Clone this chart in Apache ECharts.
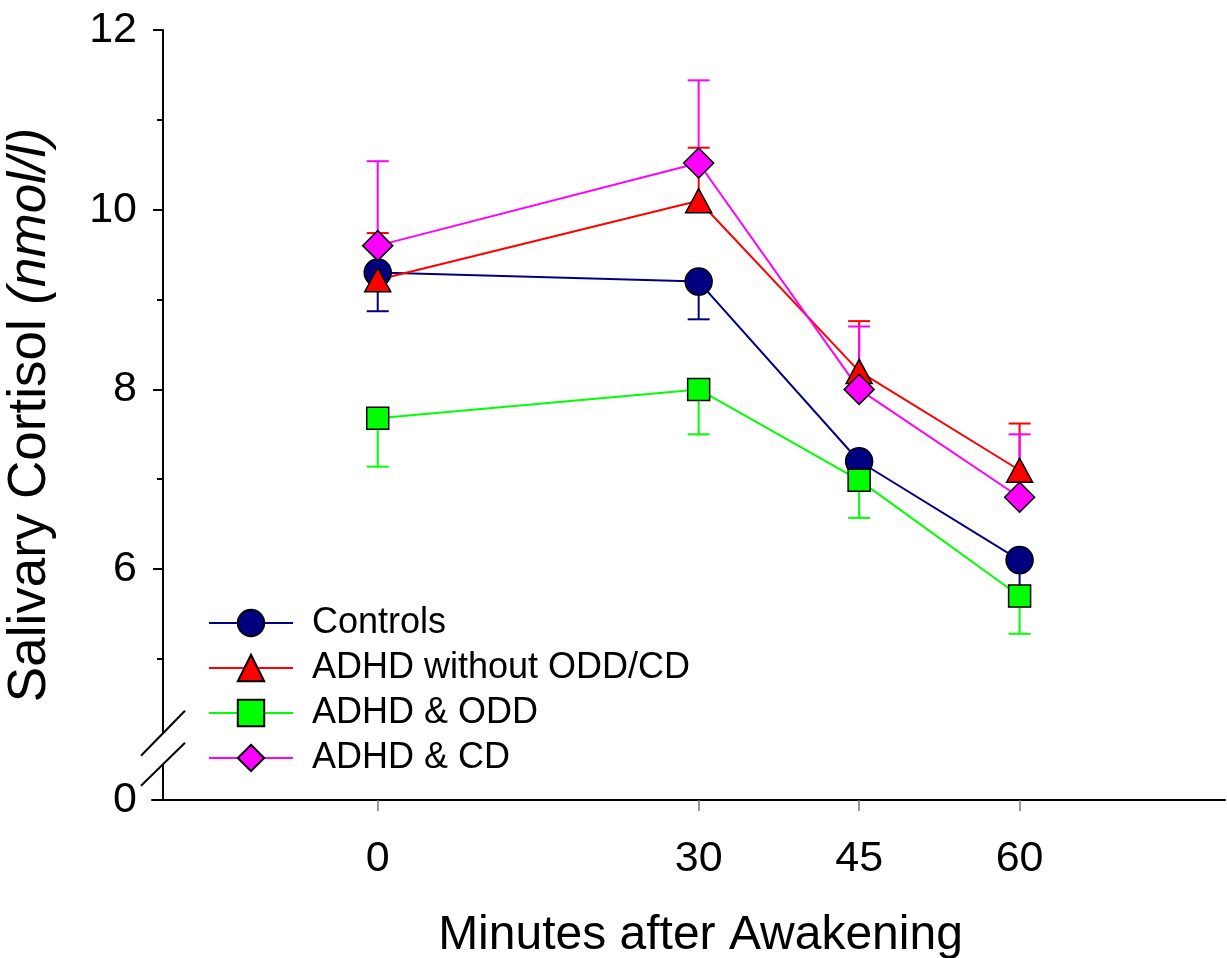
<!DOCTYPE html>
<html>
<head>
<meta charset="utf-8">
<script src="https://cdn.jsdelivr.net/npm/echarts@6/dist/echarts.min.js"></script>
<style>
html,body{margin:0;padding:0;background:#fff;}
#chartLine{width:1227px;height:958px;}
</style>
</head>
<body>
<div id="chartLine"></div>
<script>
// data
var minutes = [0, 30, 45, 60];
var xTickValues = [0, 30, 45, 60];
var yTickValues = [6, 8, 10, 12];
var yMinorTicks = [5, 7, 9, 11];
var yBottom = 3.43;      // where the broken axis shows "0"
var yBreakAt = 4.0;

var names = ['Controls', 'ADHD without ODD/CD', 'ADHD & ODD', 'ADHD & CD'];
var controls = [9.3, 9.2, 7.2, 6.1];
var controlsErr = [8.87, 8.78, 6.95, 5.75];
var adhd = [9.22, 10.1, 8.2, 7.1];
var adhdErr = [9.74, 10.69, 8.76, 7.62];
var odd = [7.68, 8.0, 6.99, 5.7];
var oddErr = [7.14, 7.5, 6.57, 5.28];
var cd = [9.6, 10.52, 8.0, 6.8];
var cdErr = [10.54, 11.44, 8.7, 7.5];

var FONT = "'Liberation Sans', Arial, sans-serif";

function pairs(vals){
    return minutes.map(function(m, i){ return [m, vals[i]]; });
}
function errPairs(vals, ends){
    return minutes.map(function(m, i){ return [m, vals[i], ends[i]]; });
}

function errorBar(name, color, vals, ends){
    return {
        name: name + ' err',
        type: 'custom',
        data: errPairs(vals, ends),
        renderItem: function(params, api){
            var p0 = api.coord([api.value(0), api.value(1)]);
            var p1 = api.coord([api.value(0), api.value(2)]);
            var st = {stroke: color, lineWidth: 2};
            return {
                type: 'group',
                children: [
                    {type: 'line', shape: {x1: p0[0], y1: p0[1], x2: p1[0], y2: p1[1]}, style: st},
                    {type: 'line', shape: {x1: p1[0] - 11, y1: p1[1], x2: p1[0] + 11, y2: p1[1]}, style: st}
                ]
            };
        },
        silent: true
    };
}

function lineSeries(name, color, vals, symbol, size){
    return {
        name: name,
        type: 'line',
        data: pairs(vals),
        symbol: symbol,
        symbolSize: size,
        showAllSymbol: true,
        lineStyle: {color: color, width: 2},
        itemStyle: {color: color, borderColor: '#000', borderWidth: 1.5},
        emphasis: {disabled: true}
    };
}

var myChart = echarts.init(document.getElementById('chartLine'));
var option = {
    backgroundColor: '#fff',
    animation: false,
    grid: {left: 152, right: 2, top: 30, bottom: 158, outerBoundsMode: 'none', containLabel: false},
    legend: {
        data: names,
        orient: 'vertical',
        left: 203,
        top: 600,
        itemWidth: 84,
        itemHeight: 33,
        itemGap: 9,
        textStyle: {fontFamily: FONT, fontSize: 36, color: '#000', padding: [0, 0, 0, 14]}
    },
    xAxis: {
        type: 'value',
        min: -21.1,
        max: 79.2,
        name: 'Minutes after Awakening',
        nameLocation: 'middle',
        nameGap: 112,
        nameTextStyle: {fontFamily: FONT, fontSize: 48, color: '#000', padding: [0, 0, 0, 24]},
        axisLine: {onZero: false, lineStyle: {color: '#000', width: 2}},
        axisTick: {show: true, customValues: xTickValues, length: 11, lineStyle: {color: '#777', width: 1.5}},
        axisLabel: {customValues: xTickValues, margin: 38, fontFamily: FONT, fontSize: 43, color: '#000'},
        splitLine: {show: false}
    },
    yAxis: [{
        type: 'value',
        min: yBottom,
        max: 12,
        offset: -11,
        name: 'Salivary Cortisol {i|(nmol/l)}',
        nameLocation: 'middle',
        nameGap: 106,
        nameTextStyle: {
            fontFamily: FONT, fontSize: 53, color: '#000',
            rich: {i: {fontFamily: FONT, fontSize: 53, fontStyle: 'italic', color: '#000'}}
        },
        axisLine: {onZero: false, lineStyle: {color: '#000', width: 2}},
        axisTick: {show: true, customValues: yTickValues, length: 10, lineStyle: {color: '#000', width: 2}},
        axisLabel: {
            customValues: [yBottom].concat(yTickValues),
            margin: 26,
            fontFamily: FONT, fontSize: 43, color: '#000',
            formatter: function(v){ return v < 5 ? '0' : String(v); }
        },
        splitLine: {show: false}
    }, {
        // minor ticks only
        type: 'value',
        min: yBottom,
        max: 12,
        offset: -11,
        position: 'left',
        axisLine: {show: false, onZero: false},
        axisTick: {show: true, customValues: yMinorTicks, length: 6, lineStyle: {color: '#000', width: 2}},
        axisLabel: {show: false},
        splitLine: {show: false}
    }],
    series: [
        errorBar(names[0], '#000080', controls, controlsErr),
        lineSeries(names[0], '#000080', controls, 'circle', 27),
        errorBar(names[1], '#ff0000', adhd, adhdErr),
        lineSeries(names[1], '#ff0000', adhd, 'triangle', [26, 24]),
        errorBar(names[2], '#00ff00', odd, oddErr),
        lineSeries(names[2], '#00ff00', odd, 'rect', 22),
        errorBar(names[3], '#ff00ff', cd, cdErr),
        lineSeries(names[3], '#ff00ff', cd, 'diamond', 30)
    ]
};
myChart.setOption(option);

// axis break marks on the y axis
var bx = myChart.convertToPixel({gridIndex: 0}, [-21.1, yBreakAt]);
var axX = bx[0] + 11;
var by = bx[1];
myChart.setOption({
    graphic: [
        {type: 'rect', shape: {x: axX - 3, y: by - 16, width: 6, height: 31}, style: {fill: '#fff'}, z: 100},
        {type: 'line', shape: {x1: axX - 22, y1: by + 7, x2: axX + 22, y2: by - 38}, style: {stroke: '#000', lineWidth: 2}, z: 101},
        {type: 'line', shape: {x1: axX - 22, y1: by + 37, x2: axX + 22, y2: by - 6}, style: {stroke: '#000', lineWidth: 2}, z: 101}
    ]
});
</script>
</body>
</html>
